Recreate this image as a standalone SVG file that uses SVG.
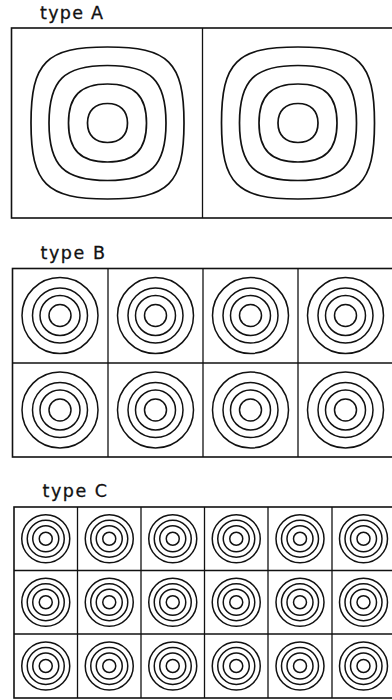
<svg xmlns="http://www.w3.org/2000/svg" width="392" height="700" viewBox="0 0 392 700">
<style>
.lbl{font-family:"DejaVu Sans","Liberation Sans",sans-serif;font-size:17.5px;fill:#111;stroke:#111;stroke-width:0.3}
.frame{fill:none;stroke:#111;stroke-width:1.6}
.div{fill:none;stroke:#111;stroke-width:1.3}
.ring{fill:none;stroke:#111;stroke-width:1.5}
.sq{fill:none;stroke:#111;stroke-width:1.7}
</style>
<defs>
<g id="squircles">
<path class="sq" d="M76.5,0 C76.5,61 61,76 0,76 C-61,76 -76.5,61 -76.5,0 C-76.5,-61 -61,-76 0,-76 C61,-76 76.5,-61 76.5,0Z"/>
<path class="sq" d="M58.5,0 C58.5,43 43.5,57.5 0,57.5 C-43.5,57.5 -58.5,43 -58.5,0 C-58.5,-43 -43.5,-57.5 0,-57.5 C43.5,-57.5 58.5,-43 58.5,0Z"/>
<path class="sq" d="M39,0 C39,27 27,39 0,39 C-27,39 -39,27 -39,0 C-39,-27 -27,-39 0,-39 C27,-39 39,-27 39,0Z"/>
<path class="sq" d="M20,0 C20,12.3 12.4,19.5 0,19.5 C-12.4,19.5 -20,12.3 -20,0 C-20,-12.3 -12.4,-19.5 0,-19.5 C12.4,-19.5 20,-12.3 20,0Z"/>
</g>
<g id="ringsB">
<circle class="ring" r="38"/><circle class="ring" r="27.5"/><circle class="ring" r="20"/><circle class="ring" r="11"/>
</g>
<g id="ringsC">
<circle class="ring" r="24"/><circle class="ring" r="18.5"/><circle class="ring" r="13"/><circle class="ring" r="6.5"/>
</g>
</defs>

<g id="typeA">
<text class="lbl" x="40" y="18.5" textLength="63" lengthAdjust="spacing">type A</text>
<rect class="frame" x="11.5" y="28" width="392" height="190"/>
<line class="div" x1="202.5" y1="28" x2="202.5" y2="218"/>
<g id="A1"><use href="#squircles" transform="translate(107.5,123)"/></g>
<g id="A2"><use href="#squircles" transform="translate(298,123)"/></g>
</g>

<g id="typeB">
<text class="lbl" x="40.5" y="258.5" textLength="64.5" lengthAdjust="spacing">type B</text>
<rect class="frame" x="12.5" y="268.5" width="392" height="188.5"/>
<g class="connectors">
<line class="div" x1="108" y1="268.5" x2="108" y2="457"/>
<line class="div" x1="203" y1="268.5" x2="203" y2="457"/>
<line class="div" x1="298" y1="268.5" x2="298" y2="457"/>
<line class="div" x1="12.5" y1="363" x2="400" y2="363"/>
</g>
<g id="B11"><use href="#ringsB" transform="translate(60,315.5)"/></g>
<g id="B12"><use href="#ringsB" transform="translate(155.5,315.5)"/></g>
<g id="B13"><use href="#ringsB" transform="translate(250.5,315.5)"/></g>
<g id="B14"><use href="#ringsB" transform="translate(345.5,315.5)"/></g>
<g id="B21"><use href="#ringsB" transform="translate(60,410)"/></g>
<g id="B22"><use href="#ringsB" transform="translate(155.5,410)"/></g>
<g id="B23"><use href="#ringsB" transform="translate(250.5,410)"/></g>
<g id="B24"><use href="#ringsB" transform="translate(345.5,410)"/></g>
</g>

<g id="typeC">
<text class="lbl" x="42.5" y="497" textLength="64.5" lengthAdjust="spacing">type C</text>
<rect class="frame" x="14" y="507" width="392" height="191"/>
<g class="connectors">
<line class="div" x1="77.5" y1="507" x2="77.5" y2="698"/>
<line class="div" x1="141" y1="507" x2="141" y2="698"/>
<line class="div" x1="204.5" y1="507" x2="204.5" y2="698"/>
<line class="div" x1="268" y1="507" x2="268" y2="698"/>
<line class="div" x1="332" y1="507" x2="332" y2="698"/>
<line class="div" x1="14" y1="570.5" x2="400" y2="570.5"/>
<line class="div" x1="14" y1="634" x2="400" y2="634"/>
</g>
<g id="C11"><use href="#ringsC" transform="translate(45.75,538.75)"/></g>
<g id="C12"><use href="#ringsC" transform="translate(109.25,538.75)"/></g>
<g id="C13"><use href="#ringsC" transform="translate(172.75,538.75)"/></g>
<g id="C14"><use href="#ringsC" transform="translate(236.25,538.75)"/></g>
<g id="C15"><use href="#ringsC" transform="translate(300,538.75)"/></g>
<g id="C16"><use href="#ringsC" transform="translate(363.5,538.75)"/></g>
<g id="C21"><use href="#ringsC" transform="translate(45.75,602.25)"/></g>
<g id="C22"><use href="#ringsC" transform="translate(109.25,602.25)"/></g>
<g id="C23"><use href="#ringsC" transform="translate(172.75,602.25)"/></g>
<g id="C24"><use href="#ringsC" transform="translate(236.25,602.25)"/></g>
<g id="C25"><use href="#ringsC" transform="translate(300,602.25)"/></g>
<g id="C26"><use href="#ringsC" transform="translate(363.5,602.25)"/></g>
<g id="C31"><use href="#ringsC" transform="translate(45.75,666)"/></g>
<g id="C32"><use href="#ringsC" transform="translate(109.25,666)"/></g>
<g id="C33"><use href="#ringsC" transform="translate(172.75,666)"/></g>
<g id="C34"><use href="#ringsC" transform="translate(236.25,666)"/></g>
<g id="C35"><use href="#ringsC" transform="translate(300,666)"/></g>
<g id="C36"><use href="#ringsC" transform="translate(363.5,666)"/></g>
</g>
</svg>
